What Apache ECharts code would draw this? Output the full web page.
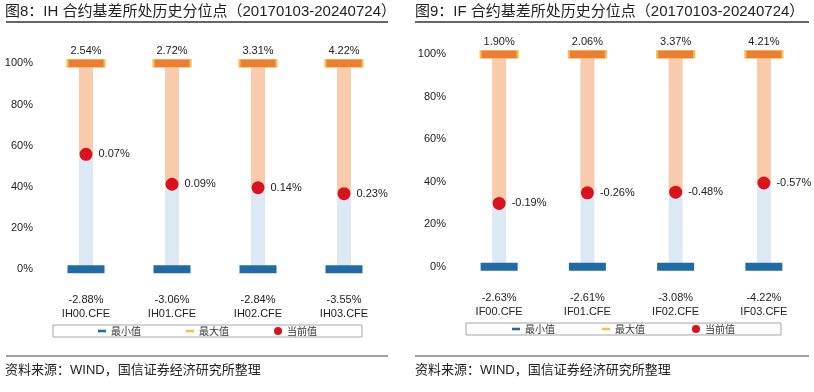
<!DOCTYPE html>
<html>
<head>
<meta charset="utf-8">
<script src="https://cdn.jsdelivr.net/npm/echarts@6/dist/echarts.min.js"></script>
<style>
html,body{margin:0;padding:0;background:#fff;}
#wrap{width:814px;height:392px;position:relative;}
#c1{position:absolute;left:0;top:0;width:407px;height:392px;}
#c2{position:absolute;left:407px;top:0;width:407px;height:392px;}
</style>
</head>
<body>
<div id="wrap"><div id="c1"></div><div id="c2"></div></div>
<script>
// ---- data ----
const ihCats = ['IH00.CFE', 'IH01.CFE', 'IH02.CFE', 'IH03.CFE'];
const ihMin = [-2.88, -3.06, -2.84, -3.55];
const ihMax = [2.54, 2.72, 3.31, 4.22];
const ihCur = [0.07, 0.09, 0.14, 0.23];
const ihCurPct = [55.8, 41.3, 39.6, 36.7];

const ifCats = ['IF00.CFE', 'IF01.CFE', 'IF02.CFE', 'IF03.CFE'];
const ifMin = [-2.63, -2.61, -3.08, -4.22];
const ifMax = [1.90, 2.06, 3.37, 4.21];
const ifCur = [-0.19, -0.26, -0.48, -0.57];
const ifCurPct = [29.8, 34.8, 35.1, 39.4];

const yTicks = [0, 20, 40, 60, 80, 100];
const legendNames = ['最小值', '最大值', '当前值'];

const FONT = '"Liberation Sans", Arial, "Noto Sans CJK SC", sans-serif';
const CJK = '"Noto Sans CJK SC", "Liberation Sans", sans-serif';
const C_MIN = '#1F6BA6', C_MAX = '#ED7D31', C_MAXLEG = '#F2C14E', C_CUR = '#D9121E';
const C_LB = '#DDE8F5', C_LO = '#F8CBAD';

function fmt(v) { return v.toFixed(2) + '%'; }

function makeOption(cfg) {
  const catLabels = cfg.cats.map((c, i) => fmt(cfg.min[i]) + '\n' + c);
  return {
    animation: false,
    textStyle: { fontFamily: FONT },
    grid: { left: cfg.gl, right: cfg.gr, top: cfg.gt, bottom: cfg.gb },
    xAxis: {
      type: 'category',
      data: catLabels,
      axisLine: { show: false },
      axisTick: { show: false },
      axisLabel: { color: '#222', fontSize: 11, lineHeight: 14, margin: 24, fontFamily: FONT }
    },
    yAxis: {
      type: 'value', min: yTicks[0], max: yTicks[yTicks.length - 1], interval: 20,
      axisLine: { show: false }, axisTick: { show: false }, splitLine: { show: false },
      axisLabel: { color: '#222', fontSize: 11, margin: cfg.ym, formatter: '{value}%', fontFamily: FONT }
    },
    legend: {
      data: [
        { name: legendNames[0], icon: 'path://M0,0h8v2.6h-8z', itemStyle: { color: C_MIN } },
        { name: legendNames[1], icon: 'path://M0,0h8v2.6h-8z', itemStyle: { color: C_MAXLEG, borderWidth: 0 } },
        { name: legendNames[2], icon: 'circle', itemStyle: { color: C_CUR } }
      ],
      left: cfg.lx, top: cfg.ly,
      itemWidth: 8, itemHeight: 8, itemGap: cfg.lgap, itemTextGap: 1,
      padding: [1, cfg.lpad, 1, cfg.lpad],
      borderColor: '#A6A6A6', borderWidth: 1,
      textStyle: { fontSize: 10, color: '#333', fontFamily: CJK }
    },
    series: [
      {
        name: 'low', type: 'bar', stack: 's', barWidth: 14, silent: true,
        data: cfg.pct, itemStyle: { color: C_LB }, z: 1
      },
      {
        name: 'high', type: 'bar', stack: 's', barWidth: 14, silent: true,
        data: cfg.pct.map(v => 100 - v), itemStyle: { color: C_LO }, z: 1
      },
      {
        name: legendNames[0], type: 'scatter', symbol: 'rect', symbolSize: [37, 8], z: 3,
        data: cfg.cats.map(() => 0), itemStyle: { color: C_MIN, opacity: 1 }
      },
      {
        name: legendNames[1], type: 'scatter', symbol: 'rect', symbolSize: [37, 8], z: 3,
        data: cfg.cats.map(() => 100),
        itemStyle: { color: C_MAX, borderColor: C_MAXLEG, borderWidth: 1, opacity: 1 },
        label: {
          show: true, position: 'top', distance: 3, fontSize: 11, color: '#222', fontFamily: FONT,
          formatter: p => fmt(cfg.max[p.dataIndex])
        }
      },
      {
        name: legendNames[2], type: 'scatter', symbol: 'circle', symbolSize: 13, z: 4,
        data: cfg.pct, itemStyle: { color: C_CUR, opacity: 1 },
        label: {
          show: true, position: 'right', distance: 6, fontSize: 11, color: '#222', fontFamily: FONT,
          formatter: p => fmt(cfg.cur[p.dataIndex])
        }
      }
    ],
    graphic: [
      { type: 'text', left: cfg.tx, top: 4, style: { text: cfg.title, font: '15px ' + FONT, fill: '#222' } },
      { type: 'line', shape: { x1: cfg.lineX1, y1: 22, x2: cfg.lineX2, y2: 22 }, style: { stroke: '#333', lineWidth: 1.5 } },
      { type: 'line', shape: { x1: cfg.lineX1, y1: 356, x2: cfg.lineX2, y2: 356 }, style: { stroke: '#808080', lineWidth: 1.5 } },
      { type: 'text', left: cfg.tx, top: 364, style: { text: '资料来源：WIND，国信证券经济研究所整理', font: '13px ' + FONT, fill: '#222' } }
    ]
  };
}

const ch1 = echarts.init(document.getElementById('c1'), null, { renderer: 'canvas' });
ch1.setOption(makeOption({
  cats: ihCats, min: ihMin, max: ihMax, cur: ihCur, pct: ihCurPct,
  gl: 43, gr: 20, gt: 63.3, gb: 122.7, ym: 10,
  lx: 53, ly: 325, lgap: 45, lpad: 45,
  tx: 5, lineX1: 6, lineX2: 388,
  title: '图8：IH 合约基差所处历史分位点（20170103-20240724）'
}));

const ch2 = echarts.init(document.getElementById('c2'), null, { renderer: 'canvas' });
ch2.setOption(makeOption({
  cats: ifCats, min: ifMin, max: ifMax, cur: ifCur, pct: ifCurPct,
  gl: 48, gr: 6, gt: 54.3, gb: 125.3, ym: 9,
  lx: 59, ly: 323, lgap: 47, lpad: 46,
  tx: 8, lineX1: 8, lineX2: 402,
  title: '图9：IF 合约基差所处历史分位点（20170103-20240724）'
}));
</script>
</body>
</html>
